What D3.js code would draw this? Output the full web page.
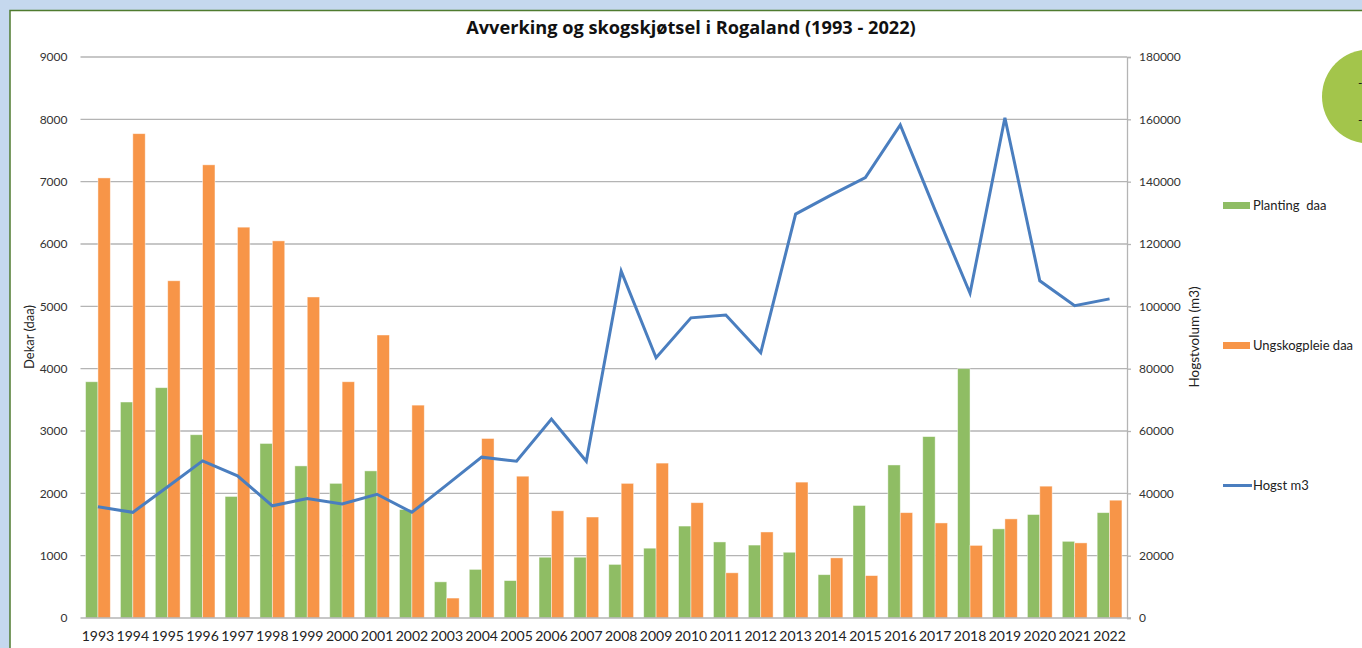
<!DOCTYPE html>
<html><head><meta charset="utf-8">
<script src="https://cdn.jsdelivr.net/npm/d3@7"></script>
<style>html,body{margin:0;padding:0;background:#c5d8ee;}svg{display:block;}</style>
</head><body>
<svg id="c" width="1362" height="648"></svg>
<script>
const years = ["1993","1994","1995","1996","1997","1998","1999","2000","2001","2002","2003","2004","2005","2006","2007","2008","2009","2010","2011","2012","2013","2014","2015","2016","2017","2018","2019","2020","2021","2022"];
const planting = [3790,3465,3695,2940,1950,2800,2440,2160,2360,1740,580,780,600,975,975,860,1120,1475,1220,1170,1055,695,1805,2455,2910,4000,1430,1660,1230,1690];
const ungskog = [7060,7770,5410,7270,6270,6050,5150,3790,4540,3415,320,2880,2275,1720,1620,2160,2485,1850,725,1380,2180,965,680,1690,1525,1165,1590,2115,1205,1890];
const hogst = [35700,33900,42100,50400,45600,36000,38300,36600,39700,33900,42700,51600,50300,63800,50300,111300,83500,96300,97200,85100,129600,135600,141300,158200,130800,104200,160500,108200,100200,102400];
const leftTicks = [0,1000,2000,3000,4000,5000,6000,7000,8000,9000];
const rightTicks = [0,20000,40000,60000,80000,100000,120000,140000,160000,180000];
const seriesNames = ["Planting  daa","Ungskogpleie daa","Hogst m3"];
const colors = {green:"#8fbd64", orange:"#f79548", blue:"#4a7ebf"};

const svg = d3.select("#c");
const font = "Lato, 'Open Sans', sans-serif";
const X0 = 80.5, X1 = 1127, Y0 = 618, Y1 = 57;

// white panel
svg.append("rect").attr("x",10).attr("y",10.5).attr("width",1400).attr("height",700)
  .attr("fill","#fff").attr("stroke","#4f7b2f").attr("stroke-width",1.5);

const x = d3.scaleBand().domain(years).range([X0,X1]).paddingInner(0.29).paddingOuter(0.145);
const xs = d3.scaleBand().domain(["p","u"]).range([0,x.bandwidth()]);
const yL = d3.scaleLinear().domain([0,9000]).range([Y0,Y1]);
const yR = d3.scaleLinear().domain([0,180000]).range([Y0,Y1]);
const fmt = d3.format("d");

// gridlines
svg.append("g").selectAll("line").data(leftTicks.filter(d=>d>0)).join("line")
  .attr("x1",X0).attr("x2",X1).attr("y1",d=>yL(d)).attr("y2",d=>yL(d))
  .attr("stroke","#b4b4b4").attr("stroke-width",1.3);

// left axis labels
const gL = svg.append("g").attr("transform",`translate(${X0},0)`)
  .call(d3.axisLeft(yL).tickValues(leftTicks).tickFormat(fmt).tickSize(0).tickPadding(13));
gL.select(".domain").remove();
gL.selectAll("text").attr("font-family",font).attr("font-size",12).attr("fill","#333");

// right axis
const gR = svg.append("g").attr("transform",`translate(${X1},0)`)
  .call(d3.axisRight(yR).tickValues(rightTicks).tickFormat(fmt).tickSize(4).tickPadding(8));
gR.select(".domain").attr("stroke","#b4b4b4").attr("stroke-width",1.3);
gR.selectAll(".tick line").attr("stroke","#b4b4b4").attr("stroke-width",1.3);
gR.selectAll("text").attr("font-family",font).attr("font-size",12).attr("fill","#333");

// bars
const bars = svg.append("g");
years.forEach((yr,i)=>{
  bars.append("rect").attr("x",x(yr)+xs("p")).attr("width",xs.bandwidth())
    .attr("y",yL(planting[i])).attr("height",Y0-yL(planting[i]))
    .attr("fill",colors.green).attr("stroke","rgba(255,255,255,0.55)").attr("stroke-width",0.8);
  bars.append("rect").attr("x",x(yr)+xs("u")).attr("width",xs.bandwidth())
    .attr("y",yL(ungskog[i])).attr("height",Y0-yL(ungskog[i]))
    .attr("fill",colors.orange).attr("stroke","rgba(255,255,255,0.55)").attr("stroke-width",0.8);
});

// bottom axis
const gB = svg.append("g").attr("transform",`translate(0,${Y0})`)
  .call(d3.axisBottom(x).tickSize(0).tickPadding(13));
gB.select(".domain").remove();
svg.append("line").attr("x1",X0).attr("x2",X1+4).attr("y1",Y0).attr("y2",Y0)
  .attr("stroke","#b4b4b4").attr("stroke-width",1.3);
gB.selectAll("text").attr("font-family",font).attr("font-size",14).attr("fill","#222");

// line
const line = d3.line().x((d,i)=>x(years[i])+x.bandwidth()/2).y(d=>yR(d));
svg.append("path").datum(hogst).attr("d",line).attr("fill","none")
  .attr("stroke",colors.blue).attr("stroke-width",3).attr("stroke-linejoin","miter");

// title
svg.append("text").attr("x",691).attr("y",34).attr("text-anchor","middle")
  .attr("font-family","'Open Sans', Lato, sans-serif").attr("font-weight","bold").attr("font-size",18.2).attr("fill","#111")
  .text("Avverking og skogskjøtsel i Rogaland (1993 - 2022)");

// axis titles
svg.append("text").attr("transform","translate(34,337) rotate(-90)").attr("text-anchor","middle")
  .attr("font-family",font).attr("font-size",13).attr("fill","#222").text("Dekar (daa)");
svg.append("text").attr("transform","translate(1199,337) rotate(-90)").attr("text-anchor","middle")
  .attr("font-family",font).attr("font-size",13.5).attr("fill","#222").text("Hogstvolum (m3)");

// legend
const legY = [205.5,345.5,485.5];
const lg = svg.append("g");
lg.append("rect").attr("x",1223).attr("y",legY[0]-3.5).attr("width",27).attr("height",7).attr("fill",colors.green);
lg.append("rect").attr("x",1223).attr("y",legY[1]-3.5).attr("width",27).attr("height",7).attr("fill",colors.orange);
lg.append("line").attr("x1",1223).attr("x2",1252).attr("y1",legY[2]).attr("y2",legY[2]).attr("stroke",colors.blue).attr("stroke-width",3);
seriesNames.forEach((n,i)=>{
  lg.append("text").attr("x",1253).attr("y",legY[i]).attr("dy","0.35em").attr("xml:space","preserve")
    .style("white-space","pre").attr("font-family",font).attr("font-size",13).attr("fill","#222").text(n);
});

// decorative green circle at top right
svg.append("circle").attr("cx",1369).attr("cy",96.5).attr("r",47).attr("fill","#a3c54b");
svg.append("text").attr("x",1358).attr("y",83).attr("dy","0.35em").attr("font-family",font).attr("font-size",12).attr("fill","#111").text("-");
svg.append("text").attr("x",1358).attr("y",120).attr("dy","0.35em").attr("font-family",font).attr("font-size",12).attr("fill","#111").text("-");
</script>
</body></html>
